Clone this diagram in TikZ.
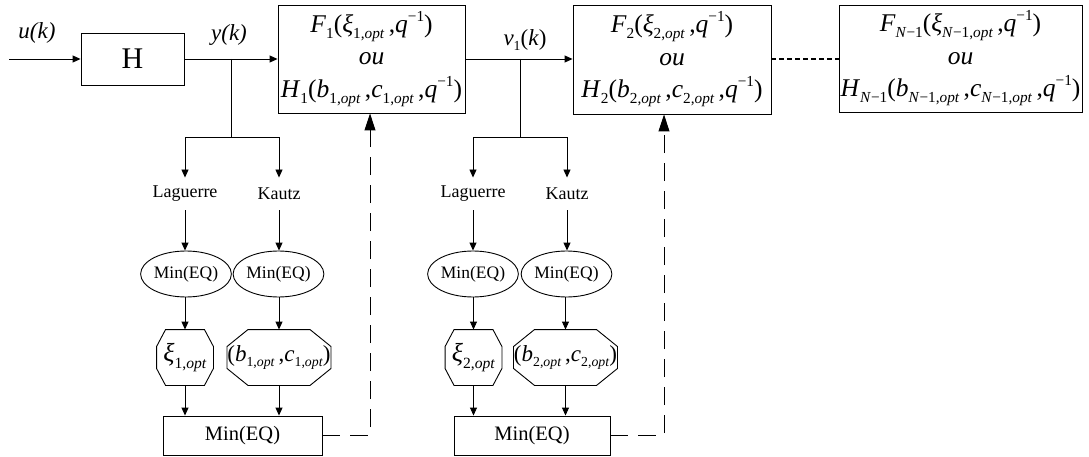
\documentclass[tikz,border=0pt]{standalone}
\usepackage{fontspec}
\setmainfont{Liberation Serif}
\usetikzlibrary{shapes.geometric,arrows.meta}
\newcommand\octoline[3]{%
  \draw ([xshift=#2]#1.north west) -- ([xshift=-#2]#1.north east) -- ([yshift=-#3]#1.north east) -- ([yshift=#3]#1.south east) -- ([xshift=-#2]#1.south east) -- ([xshift=#2]#1.south west) -- ([yshift=#3]#1.south west) -- ([yshift=-#3]#1.north west) -- cycle;}
\newcommand\Sb[1]{\raisebox{-0.25em}{\scalebox{0.6}{#1}}}
\newcommand\Sp[1]{\raisebox{0.42em}{\scalebox{0.6}{#1}}}
\newcommand\opt{\textit{opt}}
\begin{document}
\begin{tikzpicture}[x=1pt,y=-1pt,line width=0.9pt,
  blk/.style={draw, inner sep=0pt, align=center},
  lbl/.style={inner sep=0pt, font=\fontsize{18}{18}\selectfont},
  ell/.style={draw, ellipse, inner sep=0pt, minimum width=88pt, minimum height=46pt, font=\fontsize{17.5}{17.5}\selectfont},
  oct/.style={inner sep=0pt, minimum height=55pt},
  mbox/.style={draw, inner sep=0pt, minimum height=39pt, font=\fontsize{20.5}{20.5}\selectfont},
  arr/.style={-{Triangle[length=8pt,width=7pt]}},
  ret/.style={dash pattern=on 18pt off 10pt, -{Triangle[length=17pt,width=11pt]}},
  fbox/.style={blk, font=\fontsize{25.5}{32.5}\selectfont}]
\useasboundingbox (0,0) rectangle (1089,457);

% top chain
\node[blk, minimum width=103pt, minimum height=52pt, font=\fontsize{30}{30}\selectfont] (H) at (132.5,59) {H};
\node[fbox, minimum width=187pt, minimum height=108pt] (F1) at (371.5,59)
  {\textit{F}\Sb{1}(\textit{ξ}\Sb{1,\opt}\,,\textit{q}\Sp{−1})\\ \textit{ou}\\ \textit{H}\Sb{1}(\textit{b}\Sb{1,\opt}\,,\textit{c}\Sb{1,\opt}\,,\textit{q}\Sp{−1})};
\node[fbox, minimum width=198pt, minimum height=109pt] (F2) at (672,59.5)
  {\textit{F}\Sb{2}(\textit{ξ}\Sb{2,\opt}\,,\textit{q}\Sp{−1})\\ \textit{ou}\\ \textit{H}\Sb{2}(\textit{b}\Sb{2,\opt}\,,\textit{c}\Sb{2,\opt}\,,\textit{q}\Sp{−1})};
\node[fbox, minimum width=243pt, minimum height=107pt] (FN) at (960.5,58.5)
  {\textit{F}\Sb{\textit{N}−1}(\textit{ξ}\Sb{\textit{N}−1,\opt}\,,\textit{q}\Sp{−1})\\ \textit{ou}\\ \textit{H}\Sb{\textit{N}−1}(\textit{b}\Sb{\textit{N}−1,\opt}\,,\textit{c}\Sb{\textit{N}−1,\opt}\,,\textit{q}\Sp{−1})};

\node[inner sep=0pt, font=\fontsize{23}{23}\selectfont\itshape] (ul) at (37,33) {u(k)};
\node[inner sep=0pt, font=\fontsize{23}{23}\selectfont\itshape] (yl) at (229,35) {y(k)};
\node[inner sep=0pt, font=\fontsize{23}{23}\selectfont] (vl) at (525,40) {\textit{ν}\Sb{1}(\textit{k})};

\coordinate (in) at (9,59);
\draw[arr] (in) -- (H.west);
\draw[arr] (H.east) -- (F1.west |- H.east);
\draw[arr] (F1.east |- H.east) -- (F2.west |- H.east);
\draw[dash pattern=on 5pt off 3pt, line width=1.4pt] (F2.east |- H.east) -- (FN.west |- H.east);

% section 1
\coordinate (b1) at (231,59);
\coordinate (s1) at (231,137);
\node[lbl, minimum height=32pt] (lag1) at (185,194) {Laguerre};
\node[lbl, minimum height=32pt] (kau1) at (279,194) {Kautz};
\node[ell] (e1) at (186,274) {Min(EQ)};
\node[ell] (e2) at (278.5,274) {Min(EQ)};
\node[oct, minimum width=56pt, font=\fontsize{26}{26}\selectfont] (o1) at (185,357.5) {\textit{ξ}\Sb{1,\opt}};
\octoline{o1}{9pt}{17pt}
\node[oct, minimum width=102pt, font=\fontsize{23}{23}\selectfont] (o2) at (279,357.5) {(\textit{b}\Sb{1,\opt}\,,\textit{c}\Sb{1,\opt})};
\octoline{o2}{21pt}{17pt}
\node[mbox, minimum width=159pt] (m1) at (242.5,435.5) {Min(EQ)};

\draw (b1) -- (s1);
\draw[arr] (s1) -| (lag1.north);
\draw[arr] (s1) -| (kau1.north);
\draw[arr] (lag1.south) -- (lag1.south |- e1.north);
\draw[arr] (kau1.south) -- (kau1.south |- e2.north);
\draw[arr] (o1.north |- e1.south) -- (o1.north);
\draw[arr] (o2.north |- e2.south) -- (o2.north);
\draw[arr] (o1.south) -- (o1.south |- m1.north);
\draw[arr] (o2.south) -- (o2.south |- m1.north);
\draw[ret] (m1.east) -| ([xshift=-1.5pt]F1.south);

% section 2
\coordinate (b2) at (520,59);
\coordinate (s2) at (520,137);
\node[lbl, minimum height=32pt] (lag2) at (473,194) {Laguerre};
\node[lbl, minimum height=32pt] (kau2) at (567,194) {Kautz};
\node[ell] (e3) at (473,274) {Min(EQ)};
\node[ell] (e4) at (566.5,274) {Min(EQ)};
\node[oct, minimum width=56pt, font=\fontsize{26}{26}\selectfont] (o3) at (473.5,357.5) {\textit{ξ}\Sb{2,\opt}};
\octoline{o3}{9pt}{17pt}
\node[oct, minimum width=103pt, font=\fontsize{23}{23}\selectfont] (o4) at (565.5,357.5) {(\textit{b}\Sb{2,\opt}\,,\textit{c}\Sb{2,\opt})};
\octoline{o4}{21pt}{17pt}
\node[mbox, minimum width=156pt] (m2) at (532,435.5) {Min(EQ)};

\draw (b2) -- (s2);
\draw[arr] (s2) -| (lag2.north);
\draw[arr] (s2) -| (kau2.north);
\draw[arr] (lag2.south) -- (lag2.south |- e3.north);
\draw[arr] (kau2.south) -- (kau2.south |- e4.north);
\draw[arr] (o3.north |- e3.south) -- (o3.north);
\draw[arr] (o4.north |- e4.south) -- (o4.north);
\draw[arr] (o3.south) -- (o3.south |- m2.north);
\draw[arr] (o4.south) -- (o4.south |- m2.north);
\draw[ret] (m2.east) -| ([xshift=-8pt]F2.south);
\end{tikzpicture}
\end{document}
